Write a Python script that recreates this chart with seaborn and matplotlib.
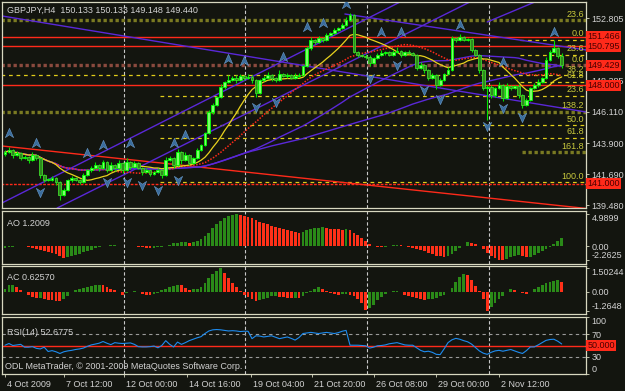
import numpy as np
import pandas as pd
import matplotlib
matplotlib.use("Agg")
import matplotlib.pyplot as plt
import seaborn as sns
from matplotlib.path import Path
from matplotlib.transforms import ScaledTranslation, blended_transform_factory

# ---------------- data ----------------
close = [143.26, 143.40, 143.05, 143.19, 142.83, 142.90, 142.69, 143.05, 142.83, 141.62,
         141.27, 141.30, 141.41, 141.12, 140.20, 140.55, 141.27, 141.41, 141.27, 141.12,
         141.62, 141.98, 142.12, 142.33, 142.12, 142.55, 141.98, 142.33, 142.12, 142.48,
         141.98, 142.55, 142.19, 142.48, 142.12, 141.84, 141.98, 141.69, 141.84, 141.98,
         141.62, 142.69, 142.83, 142.33, 143.26, 142.69, 143.05, 142.48, 142.83, 143.40,
         143.76, 144.61, 146.11, 146.61, 147.18, 147.89, 148.25, 148.39, 148.53, 148.39,
         148.67, 148.53, 148.60, 148.39, 147.46, 148.39, 148.53, 148.74, 148.53, 148.39,
         148.82, 148.67, 148.74, 148.53, 148.67, 148.74, 149.38, 150.66, 151.24, 151.10,
         151.38, 151.24, 151.59, 151.74, 151.95, 152.09, 152.31, 152.66, 153.02, 150.38,
         150.17, 150.10, 150.05, 149.60, 149.95, 150.17, 150.31, 150.38, 150.17, 150.38,
         150.45, 150.17, 150.38, 150.31, 150.17, 149.24, 149.46, 149.10, 148.53, 148.74,
         148.03, 148.39, 148.82, 149.10, 151.38, 151.24, 151.45, 151.24, 151.30, 150.52,
         150.17, 149.10, 147.82, 147.90, 147.32, 147.82, 148.03, 147.11, 147.96, 147.82,
         147.96, 147.32, 146.61, 146.97, 147.82, 148.03, 148.25, 148.53, 149.81, 150.38,
         150.66, 150.133, 149.44]
first_open = 143.10
upper_wick = [0.15, 0.20, 0.10, 0.15, 0.10, 0.12, 0.10, 0.20, 0.10, 0.10,
              0.10, 0.10, 0.15, 0.10, 0.10, 0.15, 0.10, 0.15, 0.10, 0.10,
              0.15, 0.10, 0.12, 0.20, 0.10, 0.15, 0.10, 0.25, 0.10, 0.20,
              0.10, 0.30, 0.10, 0.15, 0.10, 0.10, 0.12, 0.10, 0.10, 0.15,
              0.10, 0.25, 0.15, 0.10, 0.20, 0.10, 0.20, 0.10, 0.10, 0.15,
              0.10, 0.10, 0.15, 0.15, 0.10, 0.20, 0.10, 0.35, 0.15, 0.20,
              0.15, 0.10, 0.20, 0.15, 0.10, 0.10, 0.15, 0.20, 0.10, 0.10,
              0.30, 0.10, 0.15, 0.10, 0.20, 0.15, 0.10, 0.15, 0.20, 0.10,
              0.15, 0.10, 0.15, 0.10, 0.15, 0.10, 0.15, 0.20, 0.15, 0.10,
              0.10, 0.10, 0.15, 0.10, 0.10, 0.15, 0.25, 0.10, 0.10, 0.15,
              0.30, 0.10, 0.10, 0.15, 0.10, 0.10, 0.20, 0.10, 0.10, 0.15,
              0.10, 0.15, 0.10, 0.20, 0.15, 0.10, 0.25, 0.10, 0.10, 0.10,
              0.10, 0.10, 0.10, 0.10, 0.15, 0.10, 0.20, 0.10, 0.20, 0.10,
              0.10, 0.15, 0.10, 0.15, 0.10, 0.15, 0.20, 0.10, 0.20, 0.15,
              0.58, 0.10, 0.15]
lower_wick = [0.15, 0.10, 0.20, 0.10, 0.15, 0.10, 0.20, 0.10, 0.15, 0.20,
              0.15, 0.10, 0.10, 0.20, 0.35, 0.10, 0.10, 0.15, 0.10, 0.15,
              0.10, 0.10, 0.15, 0.10, 0.20, 0.10, 0.15, 0.10, 0.20, 0.10,
              0.20, 0.10, 0.15, 0.10, 0.10, 0.20, 0.10, 0.15, 0.10, 0.10,
              0.20, 0.10, 0.10, 0.20, 0.10, 0.25, 0.10, 0.15, 0.10, 0.10,
              0.10, 0.10, 0.10, 0.15, 0.10, 0.10, 0.15, 0.10, 0.10, 0.20,
              0.10, 0.15, 0.10, 0.20, 0.28, 0.10, 0.10, 0.10, 0.20, 0.15,
              0.10, 0.10, 0.15, 0.10, 0.10, 0.10, 0.10, 0.10, 0.10, 0.15,
              0.10, 0.15, 0.10, 0.10, 0.10, 0.10, 0.10, 0.10, 0.10, 0.10,
              0.15, 0.10, 0.15, 0.20, 0.10, 0.10, 0.10, 0.15, 0.10, 0.10,
              0.10, 0.15, 0.10, 0.10, 0.10, 0.15, 0.10, 0.20, 0.15, 0.10,
              0.25, 0.10, 0.10, 0.10, 0.10, 0.15, 0.10, 0.10, 0.10, 0.15,
              0.10, 0.20, 0.15, 2.30, 0.20, 0.15, 0.10, 0.25, 0.10, 0.15,
              0.10, 0.20, 0.25, 0.10, 0.10, 0.10, 0.15, 0.10, 0.10, 0.10,
              0.10, 0.15, 0.20]

ao = [-0.30, -0.22, -0.12, -0.02, 0.03, -0.05, -0.17, -0.30, -0.45, -0.60,
      -0.75, -0.90, -1.10, -1.30, -1.60, -1.85, -1.70, -1.55, -1.40, -1.20,
      -1.02, -0.80, -0.60, -0.38, -0.18, -0.06, 0.04, 0.10, 0.12, 0.06,
      0.02, 0.04, 0.03, -0.05, -0.12, -0.20, -0.30, -0.33, -0.28, -0.20,
      -0.10, 0.02, 0.20, 0.40, 0.55, 0.62, 0.65, 0.50, 0.60, 0.80,
      1.10, 1.50, 2.10, 2.80, 3.40, 4.00, 4.40, 4.70, 4.85, 4.99,
      4.93, 4.80, 4.60, 4.35, 4.10, 3.85, 3.60, 3.40, 3.20, 3.00,
      2.80, 2.60, 2.45, 2.30, 2.15, 2.10, 2.25, 2.45, 2.65, 2.80,
      2.90, 2.95, 2.85, 2.75, 2.70, 2.65, 2.55, 2.70, 2.50, 2.10,
      1.70, 1.30, 0.80, 0.35, 0.05, -0.15, -0.18, -0.12, -0.05, 0.10,
      0.15, 0.10, 0.02, -0.10, -0.25, -0.45, -0.65, -0.85, -1.10, -1.30,
      -1.50, -1.65, -1.72, -1.55, -1.20, -0.80, -0.35, 0.05, 0.60, 0.55,
      0.30, 0.05, -0.50, -1.10, -1.60, -1.95, -2.20, -2.26, -2.05, -1.80,
      -1.60, -1.45, -1.65, -1.72, -1.70, -1.45, -1.15, -0.85, -0.50, -0.15,
      0.35, 0.80, 1.20]
ac = [0.20, 0.40, 0.45, 0.30, 0.10, -0.05, -0.20, -0.35, -0.42, -0.40,
      -0.48, -0.52, -0.55, -0.58, -0.60, -0.45, -0.25, -0.05, 0.08, 0.18,
      0.25, 0.32, 0.38, 0.42, 0.45, 0.40, 0.30, 0.18, 0.08, -0.05,
      -0.18, -0.10, -0.02, 0.02, -0.05, -0.12, -0.20, -0.22, -0.15, -0.08,
      0.08, 0.20, 0.30, 0.38, 0.42, 0.40, 0.25, 0.10, 0.15, 0.20,
      0.32, 0.55, 0.85, 1.15, 1.35, 1.50, 1.20, 0.90, 0.55, 0.30,
      0.05, -0.18, -0.35, -0.50, -0.58, -0.55, -0.45, -0.38, -0.30, -0.28,
      -0.32, -0.36, -0.38, -0.40, -0.38, -0.42, -0.25, -0.10, 0.05, 0.20,
      0.30, 0.20, 0.05, -0.10, -0.15, -0.20, -0.15, -0.12, -0.18, -0.30,
      -0.45, -0.70, -1.15, -1.05, -0.85, -0.55, -0.35, -0.15, -0.05, 0.03,
      0.05, -0.05, -0.18, -0.28, -0.35, -0.42, -0.48, -0.55, -0.50, -0.45,
      -0.40, -0.30, -0.22, -0.05, 0.25, 0.60, 0.95, 1.15, 1.05, 0.75,
      0.35, 0.05, -0.50, -1.26, -1.00, -0.75, -0.45, -0.25, -0.02, 0.15,
      0.08, 0.00, -0.10, -0.15, 0.00, 0.15, 0.30, 0.45, 0.55, 0.62,
      0.70, 0.75, 0.63]
rsi = [50.5, 53.5, 50.0, 51.0, 52.0, 47.0, 47.0, 48.0, 45.0, 44.0,
       47.0, 39.5, 41.0, 39.0, 36.0, 39.0, 40.5, 41.5, 43.0, 44.0,
       45.5, 48.5, 51.0, 52.5, 54.0, 57.0, 54.0, 51.5, 55.0, 54.0,
       53.5, 54.0, 54.5, 52.0, 48.0, 47.5, 47.5, 48.0, 49.0, 46.0,
       50.0, 58.5, 52.0, 47.5, 56.0, 52.0, 55.0, 58.5, 61.0, 63.5,
       65.5, 71.0, 75.5, 77.5, 78.0, 77.5, 76.5, 75.5, 76.0, 75.5,
       74.5, 75.0, 75.0, 62.0, 67.0, 66.5, 65.0, 66.0, 67.0, 64.5,
       62.0, 63.5, 65.0, 62.5, 59.5, 64.0, 71.0, 72.0, 73.0, 72.0,
       71.0, 72.0, 73.0, 72.0, 71.0, 72.5, 75.0, 76.5, 50.5, 50.5,
       50.5, 50.0, 49.5, 45.5, 47.0, 49.5, 50.0, 51.0, 53.0, 54.0,
       55.0, 53.0, 51.0, 50.5, 50.5, 46.0, 41.5, 39.0, 40.0, 38.0,
       34.5, 34.0, 44.0, 55.0, 60.0, 62.5, 61.0, 58.5, 56.5, 52.5,
       46.5, 40.5, 36.5, 34.5, 38.0, 40.5, 41.5, 40.0, 41.5, 43.0,
       40.5, 38.0, 36.0, 41.0, 47.5, 47.5, 51.0, 55.0, 59.0, 60.5,
       61.0, 57.5, 52.7]

up_fr_bar = [1, 8, 21, 25, 32, 43, 46, 57, 61, 71, 77, 81, 87, 96, 101, 116, 127, 140]
up_fr_price = [144.61, 143.90, 143.19, 143.76, 143.90, 143.90, 144.47, 149.89, 149.74, 150.03,
               152.16, 152.45, 153.80, 151.81, 151.81, 152.31, 149.67, 151.81]
dn_fr_bar = [9, 26, 31, 35, 39, 44, 64, 69, 93, 100, 107, 111, 123, 127, 132]
dn_fr_price = [140.41, 141.12, 141.12, 140.91, 140.55, 141.27, 146.47, 146.82, 148.53, 149.46,
               147.68, 147.04, 145.11, 146.39, 145.75]

# horizontal price objects
hl_price = [152.66, 151.466, 151.24, 150.795, 150.17, 149.429, 148.71, 148.25, 148.000,
            147.25, 146.11, 145.15, 144.26, 143.26, 141.12, 141.000]
hl_start = [-1, -1, 131.4, -1, 131.4, -1, -1, 131.4, -1, 39.5, -1, 39.5, 39.5, 132, 39.5, -1]
hl_kind = ['olive', 'red', 'fib', 'red', 'fib', 'brown', 'fib', 'fib', 'red', 'fib', 'olive',
           'fib', 'fib', 'olive', 'fib', 'reddot']
hl_label = ['23.6', '', '0.0', '', '23.6', '0.0', '38.2', '61.8', '', '23.6', '138.2', '50.0',
            '61.8', '161.8', '100.0', '']
box_prices = [151.466, 150.795, 149.429, 148.000, 141.000]
price_ticks = [152.805, 148.385, 146.110, 143.900, 141.690, 139.480]

# trend lines (bar, price) anchors
tl_x0 = [-0.77, 86.7, -0.77, -0.77, 13.3, 123.0]
tl_p0 = [152.95, 153.09, 143.69, 139.63, 139.27, 152.52]
tl_x1 = [148.2, 148.2, 148.2, 100.8, 118.6, 135.2]
tl_p1 = [146.11, 150.53, 139.24, 153.95, 153.95, 153.95]
tl_kind = ['purple', 'purple', 'red', 'purple', 'purple', 'purple']

sep_bars = [30.4, 61.2, 92.3, 123.5]
time_tick_bars = [0, 15, 30.4, 46.4, 62.8, 78.3, 94, 110, 126]
time_labels = ['4 Oct 2009', '7 Oct 12:00', '12 Oct 00:00', '14 Oct 16:00', '19 Oct 04:00',
               '21 Oct 20:00', '26 Oct 08:00', '29 Oct 00:00', '2 Nov 12:00']

# ---------------- style ----------------
sns.set_theme(style="dark")
plt.rcParams['font.family'] = ['Liberation Sans', 'DejaVu Sans']
BG = '#13150f'
FG = '#d2d2d2'
BORDER = '#d8d8c0'
PURPLE = '#5a28d8'
RED = '#ff2a1a'
FS = 6.5
W, H = 625, 391

n = len(close)
bars = np.arange(n)
close_a = np.array(close)
open_a = np.array([first_open] + close[:-1])
high_a = np.maximum(open_a, close_a) + np.array(upper_wick)
low_a = np.minimum(open_a, close_a) - np.array(lower_wick)

fig = plt.figure(figsize=(W / 100, H / 100), dpi=100, facecolor=BG)


def panel(top, bottom):
    ax = fig.add_axes([2 / W, 1 - bottom / H, 584 / W, (bottom - top) / H])
    ax.set_facecolor(BG)
    ax.grid(False)
    for s in ax.spines.values():
        s.set_color(BORDER)
        s.set_linewidth(0.9)
    ax.set_xlim(-0.77, 148.2)
    ax.yaxis.tick_right()
    ax.tick_params(axis='y', colors=BORDER, labelcolor=FG, labelsize=FS, length=2.5,
                   width=0.6, pad=1.5, direction='out', right=True, left=False)
    ax.tick_params(axis='x', bottom=False, labelbottom=False)
    for b in sep_bars:
        ax.axvline(b, color='#c8c8c8', lw=0.8, ls=(0, (3, 2)), zorder=1)
    return ax


ax = panel(2, 208)
ax_ao = panel(211, 264)
ax_ac = panel(266, 314)
ax_rsi = panel(317, 374)

# ---------------- main price panel ----------------
ax.set_ylim(139.272, 153.945)
style = {
    'red': dict(color=RED, lw=1.0, ls='-'),
    'reddot': dict(color=RED, lw=1.0, ls=(0, (2, 1))),
    'brown': dict(color='#8a4a3e', lw=2.4, ls=(0, (1, 0.8))),
    'olive': dict(color='#7a7a22', lw=2.4, ls=(0, (1, 0.8))),
    'fib': dict(color='#e0cc1a', lw=0.9, ls=(0, (3, 3))),
}
lab_tr = blended_transform_factory(ax.transAxes, ax.transData)
for p, st, kind, lab in zip(hl_price, hl_start, hl_kind, hl_label):
    ax.hlines(p, st, 148.2, zorder=2, **style[kind])
    if lab:
        ax.text(0.997, p, lab, transform=lab_tr + ScaledTranslation(0, 1.5 / 100, fig.dpi_scale_trans),
                ha='right', va='bottom', color='#c8c83c', fontsize=FS, zorder=6)

for x0, p0, x1, p1, kind in zip(tl_x0, tl_p0, tl_x1, tl_p1, tl_kind):
    ax.plot([x0, x1], [p0, p1], color=PURPLE if kind == 'purple' else RED, lw=1.0, zorder=2)

# moving averages from the closes
cs = pd.Series(close_a)
ma_df = pd.DataFrame({'bar': bars,
                      'fast': cs.rolling(13, min_periods=1).mean(),
                      'mid': cs.rolling(26, min_periods=1).mean(),
                      'slow': cs.rolling(55, min_periods=1).mean(),
                      'slower': cs.rolling(89, min_periods=1).mean()})
sns.lineplot(data=ma_df, x='bar', y='slower', ax=ax, color=PURPLE, lw=1.0, zorder=3, legend=False)
sns.lineplot(data=ma_df, x='bar', y='slow', ax=ax, color=PURPLE, lw=1.0, zorder=3, legend=False)
sns.lineplot(data=ma_df, x='bar', y='mid', ax=ax, color=RED, lw=1.1, ls=(0, (1, 1)), zorder=3, legend=False)
sns.lineplot(data=ma_df, x='bar', y='fast', ax=ax, color='#e8d21e', lw=0.9, zorder=3, legend=False)

# candles
bull = close_a >= open_a
ax.vlines(bars, low_a, high_a, color='#00e400', lw=0.8, zorder=4)
body_h = np.where(np.abs(close_a - open_a) < 0.04, 0.04, close_a - open_a)
ax.bar(bars[bull], body_h[bull], bottom=open_a[bull], width=0.72, color='#7dff6a',
       edgecolor='#00ff00', lw=0.6, zorder=5)
ax.bar(bars[~bull], body_h[~bull], bottom=open_a[~bull], width=0.72, color='#2f8a1e',
       edgecolor='#3fd82a', lw=0.6, zorder=5)

# fractals
arrow_up = Path([(0, 1), (0.8, -0.8), (0, -0.25), (-0.8, -0.8), (0, 1)],
                [Path.MOVETO, Path.LINETO, Path.LINETO, Path.LINETO, Path.CLOSEPOLY])
arrow_dn = Path([(0, -1), (0.8, 0.8), (0, 0.25), (-0.8, 0.8), (0, -1)],
                [Path.MOVETO, Path.LINETO, Path.LINETO, Path.LINETO, Path.CLOSEPOLY])
ax.scatter(up_fr_bar, up_fr_price, marker=arrow_up, s=55, color='#3a6c9c',
           edgecolors='#6a9ccc', linewidths=0.4, zorder=6)
ax.scatter(dn_fr_bar, dn_fr_price, marker=arrow_dn, s=55, color='#3a6c9c',
           edgecolors='#6a9ccc', linewidths=0.4, zorder=6)

ax.set_yticks(price_ticks)
ax.set_yticklabels([f'{v:.3f}' for v in price_ticks])
for p in box_prices:
    ax.text(1.0025, p, f'{p:.3f}', transform=lab_tr, ha='left', va='center', fontsize=FS,
            color='#4a0000', clip_on=False, zorder=10,
            bbox=dict(boxstyle='square,pad=0.12', fc=RED, ec='none'))

# ---------------- AO ----------------
ao_a = np.array(ao)
ao_up = np.r_[True, ao_a[1:] >= ao_a[:-1]]
ax_ao.bar(bars, ao_a, width=0.72, color=np.where(ao_up, '#2a8a18', '#ff3018'), lw=0, zorder=3)
ax_ao.set_ylim(-2.833, 5.51)
ax_ao.set_yticks([4.9899, 0.0, -2.2625])
ax_ao.set_yticklabels(['4.9899', '0.00', '-2.2625'])

# ---------------- AC ----------------
ac_a = np.array(ac)
ac_up = np.r_[True, ac_a[1:] >= ac_a[:-1]]
ax_ac.bar(bars, ac_a, width=0.72, color=np.where(ac_up, '#2a8a18', '#ff3018'), lw=0, zorder=3)
ax_ac.set_ylim(-1.431, 1.65)
ax_ac.set_yticks([1.50244, 0.0, -1.2648])
ax_ac.set_yticklabels(['1.50244', '0.00', '-1.2648'])

for a in (ax_ao, ax_ac):
    tl = a.get_yticklabels()
    tl[0].set_va('top')
    tl[-1].set_va('bottom')

# ---------------- RSI ----------------
ax_rsi.set_ylim(0, 100)
ax_rsi.axhline(70, color='#9a9a9a', lw=0.8, ls=(0, (3, 3)), zorder=2)
ax_rsi.axhline(30, color='#9a9a9a', lw=0.8, ls=(0, (3, 3)), zorder=2)
ax_rsi.axhline(50, color=RED, lw=1.0, zorder=2)
rsi_df = pd.DataFrame({'bar': bars, 'rsi': rsi})
sns.lineplot(data=rsi_df, x='bar', y='rsi', ax=ax_rsi, color='#1e8cf0', lw=0.8, zorder=3, legend=False)
ax_rsi.set_yticks([100, 70, 30, 0])
ax_rsi.set_yticklabels(['100', '70', '30', '0'])
rl = ax_rsi.get_yticklabels()
rl[0].set_va('top')
rl[-1].set_va('bottom')
rsi_tr = blended_transform_factory(ax_rsi.transAxes, ax_rsi.transData)
ax_rsi.text(1.0025, 50, '50.000', transform=rsi_tr, ha='left', va='center', fontsize=FS,
            color='#4a0000', clip_on=False, zorder=10,
            bbox=dict(boxstyle='square,pad=0.12', fc=RED, ec='none'))

ax_rsi.set_xticks(time_tick_bars)
ax_rsi.set_xticklabels(time_labels, ha='left')
ax_rsi.tick_params(axis='x', bottom=True, labelbottom=True, colors=BORDER, labelcolor=FG,
                   labelsize=FS, length=2.5, width=0.6, pad=2, direction='out')
for t in ax_rsi.get_xticklabels():
    t.set_transform(t.get_transform() + ScaledTranslation(2 / 100, 0, fig.dpi_scale_trans))

for a in (ax, ax_ao, ax_ac, ax_rsi):
    a.set_xlabel('')
    a.set_ylabel('')

# ---------------- texts ----------------
def ftext(x, y, s, **kw):
    fig.text(x / W, 1 - y / H, s, color=FG, fontsize=FS, va='center', ha='left', **kw)

ftext(7, 10.5, 'GBPJPY,H4  150.133 150.133 149.148 149.440')
ftext(7, 223.5, 'AO 1.2009')
ftext(7, 278, 'AC 0.62570')
ftext(7, 332.5, 'RSI(14) 52.6775')
ftext(5, 366.5, 'ODL MetaTrader, \u00a9 2001-2009 MetaQuotes Software Corp.')

fig.savefig('out.png', dpi=100, facecolor=BG)
